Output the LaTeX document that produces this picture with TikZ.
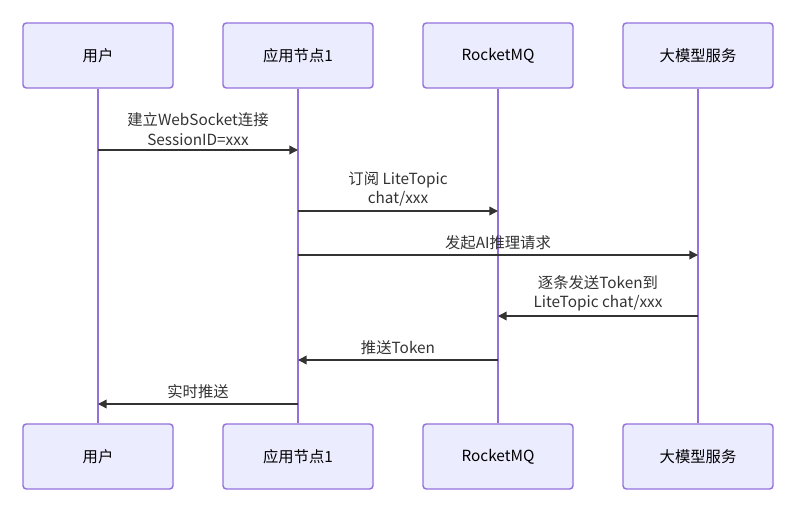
\documentclass[tikz,border=0pt]{standalone}
\usepackage{fontspec}
\setmainfont{Noto Sans CJK SC}
\usepackage{tikz}
\usetikzlibrary{arrows.meta, positioning}

\definecolor{actorfill}{HTML}{ECECFF}
\definecolor{actorline}{HTML}{9370DB}
\definecolor{msgline}{HTML}{333333}

\begin{document}
\begin{tikzpicture}[
  x=0.75pt, y=-0.75pt,
  actor/.style   = {draw=actorline, fill=actorfill, line width=1.1pt,
                    rounded corners=2.5pt, minimum width=112.5pt,
                    minimum height=48.75pt, align=center,
                    font=\fontsize{11.5}{14}\selectfont, text=black},
  life/.style    = {draw=actorline, line width=1.1pt},
  msg/.style     = {draw=msgline, line width=1.1pt,
                    -{Triangle[length=6.5pt, width=6.5pt]}},
  lbl/.style     = {align=center, anchor=south, inner sep=0pt,
                    font=\fontsize{11.5}{14.5}\selectfont, text=msgline}
]
  \useasboundingbox (0,0) rectangle (801,513);

  %% Participants, top row
  \node[actor] (user)  at (98,55.5)  {用户};
  \node[actor] (app)   at (298,55.5) {应用节点1};
  \node[actor] (mq)    at (498,55.5) {RocketMQ};
  \node[actor] (llm)   at (698,55.5) {大模型服务};

  %% Participants, bottom row
  \node[actor] (user2) at (98,456.5)  {用户};
  \node[actor] (app2)  at (298,456.5) {应用节点1};
  \node[actor] (mq2)   at (498,456.5) {RocketMQ};
  \node[actor] (llm2)  at (698,456.5) {大模型服务};

  %% Lifelines
  \draw[life] (user) -- (user2);
  \draw[life] (app)  -- (app2);
  \draw[life] (mq)   -- (mq2);
  \draw[life] (llm)  -- (llm2);

  %% Message rows
  \coordinate (m1) at (0,150);
  \coordinate (m2) at (0,211);
  \coordinate (m3) at (0,255);
  \coordinate (m4) at (0,316);
  \coordinate (m5) at (0,360);
  \coordinate (m6) at (0,404);

  \draw[msg] (user|-m1) -- node[lbl, yshift=3pt]{建立WebSocket连接\\SessionID=xxx} (app|-m1);
  \draw[msg] (app|-m2)  -- node[lbl, yshift=3pt]{订阅 LiteTopic\\chat/xxx} (mq|-m2);
  \draw[msg] (app|-m3)  -- node[lbl, yshift=3.5pt]{发起AI推理请求} (llm|-m3);
  \draw[msg] (llm|-m4)  -- node[lbl, yshift=3pt]{逐条发送Token到\\LiteTopic chat/xxx} (mq|-m4);
  \draw[msg] (mq|-m5)   -- node[lbl, yshift=3.5pt]{推送Token} (app|-m5);
  \draw[msg] (app|-m6)  -- node[lbl, yshift=3.5pt]{实时推送} (user|-m6);
\end{tikzpicture}
\end{document}
